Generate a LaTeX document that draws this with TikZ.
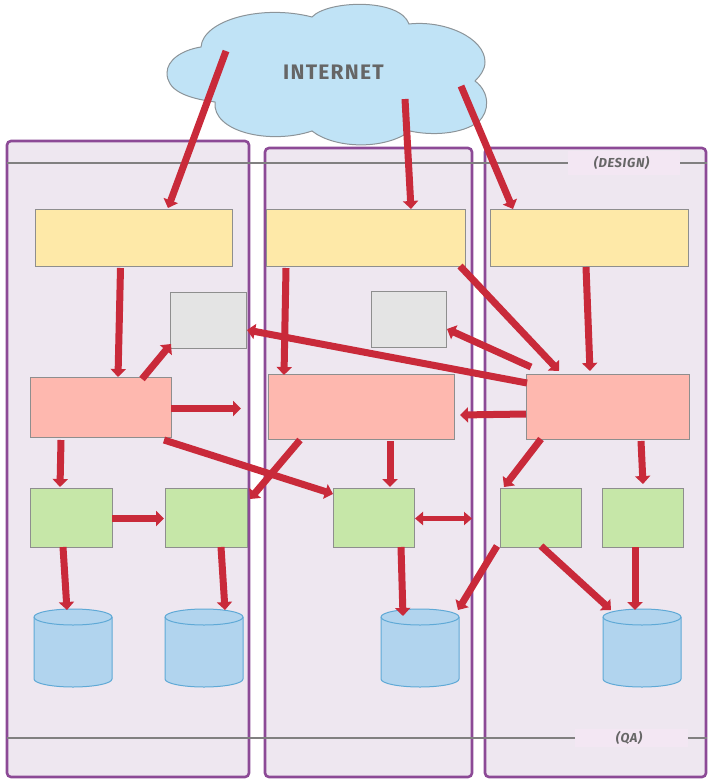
\documentclass[tikz,border=0pt]{standalone}
\usepackage{fontspec}
\setmainfont{Fira Sans}
\usetikzlibrary{arrows.meta,calc}
\definecolor{panelfill}{HTML}{EEE7F0}
\definecolor{panelline}{HTML}{8C4A96}
\definecolor{tierline}{HTML}{808080}
\definecolor{tierpatch}{HTML}{F3E7F3}
\definecolor{cloudfill}{HTML}{C0E3F6}
\definecolor{cloudline}{HTML}{8C9499}
\definecolor{inktext}{HTML}{666666}
\definecolor{flowred}{HTML}{C92A3A}
\definecolor{boxline}{HTML}{8E8E8E}
\definecolor{dbfill}{HTML}{B1D4EE}
\definecolor{dbline}{HTML}{5FA9D6}
\definecolor{webfill}{HTML}{FEE9A8}
\definecolor{cachefill}{HTML}{E4E4E4}
\definecolor{appfill}{HTML}{FEB8AF}
\definecolor{svcfill}{HTML}{C6E7A8}
\tikzset{
  panel/.style={draw=panelline,fill=panelfill,line width=2.6pt,rounded corners=4pt,outer sep=0pt,inner sep=0pt,anchor=north west},
  tier/.style={draw=tierline,line width=2.8pt},
  patch/.style={fill=tierpatch,draw=none,inner sep=0pt},
  tierlabel/.style={text=inktext,font=\bfseries\itshape\fontsize{13}{15}\selectfont\addfontfeatures{LetterSpace=5}},
  block/.style={draw=boxline,line width=1pt,inner sep=0pt,outer sep=0pt,anchor=north west},
  web/.style={block,fill=webfill},
  cache/.style={block,fill=cachefill},
  app/.style={block,fill=appfill},
  svc/.style={block,fill=svcfill},
  store/.style={inner sep=0pt,outer sep=0pt,minimum width=78pt,minimum height=78pt},
  dbbody/.style={draw=dbline,line width=1pt,fill=dbfill},
  flow/.style={draw=flowred,line width=7pt,-{Triangle[length=8pt,width=15pt]}},
  flowboth/.style={draw=flowred,line width=5.5pt,{Triangle[length=8pt,width=13pt]}-{Triangle[length=8pt,width=13pt]}}
}
\begin{document}
\begin{tikzpicture}[x=1pt,y=-1pt]
\useasboundingbox (0,0) rectangle (714,784);

% environment panels
\node[panel,minimum width=242pt,minimum height=636pt] (envA) at (7,141) {};
\node[panel,minimum width=207pt,minimum height=629pt] (envB) at (265,148) {};
\node[panel,minimum width=221pt,minimum height=629pt] (envC) at (485,148) {};

% tier separators with their captions
\coordinate (designL) at (7,163);
\coordinate (designR) at (707,163);
\coordinate (qaL) at (7,738);
\coordinate (qaR) at (707,738);
\draw[tier] (designL) -- (designR);
\draw[tier] (qaL) -- (qaR);
\node[patch,minimum width=112pt,minimum height=24pt] (designPatch) at (624,163) {};
\node[patch,minimum width=113pt,minimum height=18pt] (qaPatch) at (631.5,738) {};
\node[tierlabel] (designText) at (621.5,163) {(DESIGN)};
\node[tierlabel] (qaText) at (629,738) {(QA)};

% internet cloud
\draw[draw=cloudline,fill=cloudfill,line width=1pt]
  (201,47) .. controls (203,20) and (262,4) .. (312,17)
  .. controls (328,0) and (400,-2) .. (409,24)
  .. controls (445,20) and (485,38) .. (485,62)
  .. controls (485,70) and (480,76) .. (475,81)
  .. controls (490,92) and (490,112) .. (478,122)
  .. controls (462,134) and (432,136) .. (410,131)
  .. controls (385,150) and (335,149) .. (312,131)
  .. controls (270,145) and (212,132) .. (215,102)
  .. controls (185,98) and (167,90) .. (167,73)
  .. controls (167,60) and (182,50) .. (201,47) -- cycle;
\node[text=inktext,font=\bfseries\fontsize{21}{24}\selectfont\addfontfeatures{LetterSpace=6}] (internet) at (333.5,72) {INTERNET};
\coordinate (netA) at (226,51);
\coordinate (netB) at (405,99);
\coordinate (netC) at (461,86);

% front-end blocks
\node[web,minimum width=197pt,minimum height=57pt] (webA) at (35,209) {};
\node[web,minimum width=199pt,minimum height=57pt] (webB) at (266,209) {};
\node[web,minimum width=198pt,minimum height=57pt] (webC) at (490,209) {};

% grey blocks
\node[cache,minimum width=76pt,minimum height=56pt] (cacheA) at (170,292) {};
\node[cache,minimum width=75pt,minimum height=56pt] (cacheB) at (371,291) {};

% application blocks
\node[app,minimum width=141pt,minimum height=60pt] (appA) at (30,377) {};
\node[app,minimum width=186pt,minimum height=65pt] (appB) at (268,374) {};
\node[app,minimum width=163pt,minimum height=65pt] (appC) at (526,374) {};

% service blocks
\node[svc,minimum width=82pt,minimum height=59pt] (svcA) at (30,488) {};
\node[svc,minimum width=82pt,minimum height=59pt] (svcB) at (165,488) {};
\node[svc,minimum width=81pt,minimum height=59pt] (svcC) at (333,488) {};
\node[svc,minimum width=81pt,minimum height=59pt] (svcD) at (500,488) {};
\node[svc,minimum width=81pt,minimum height=59pt] (svcE) at (602,488) {};

% databases: a cylinder drawn round each named node
\node[store] (dbA) at (73,648) {};
\node[store] (dbB) at (204,648) {};
\node[store] (dbC) at (420,648) {};
\node[store] (dbD) at (642,648) {};
\foreach \db in {dbA,dbB,dbC,dbD}{
  \begin{scope}[shift={(\db.center)}]
    \draw[dbbody] (-39,-31) .. controls (-39,-35.5) and (-21,-39) .. (0,-39)
      .. controls (21,-39) and (39,-35.5) .. (39,-31) -- (39,31)
      .. controls (39,35.5) and (21,39) .. (0,39)
      .. controls (-21,39) and (-39,35.5) .. (-39,31) -- cycle;
    \draw[dbbody,fill=none] (-39,-31) .. controls (-39,-26.5) and (-21,-23) .. (0,-23)
      .. controls (21,-23) and (39,-26.5) .. (39,-31);
  \end{scope}
}

% loose connector ends
\coordinate (appAout) at (241,408.5);
\coordinate (svcCout) at (472,518.5);

% connectors from the internet
\draw[flow] (netA) -- ($(webA.north west)+(133,-1)$);
\draw[flow] (netB) -- ($(webB.north west)+(145,0)$);
\draw[flow] (netC) -- ($(webC.north west)+(23,0)$);

% connectors in the first column
\draw[flow] ($(webA.south west)+(85.5,2)$) -- ($(appA.north west)+(88,0)$);
\draw[flow] ($(appA.north west)+(112,2)$) -- ($(cacheA.south west)+(1,-4)$);
\draw[flow] (appA.east) ++(0,1.5) -- (appAout);
\draw[flow] ($(appA.south west)+(31,3)$) -- ($(svcA.north west)+(30,-1)$);
\draw[flow] ($(appA.south west)+(134,3)$) -- ($(svcC.north west)+(0,6)$);
\draw[flow] (svcA.east) ++(0,1) -- ($(svcB.west)+(-1,1)$);
\draw[flow] ($(svcA.south west)+(33,0)$) -- ($(dbA.north west)+(33,1)$);
\draw[flow] ($(svcB.south west)+(56,0)$) -- ($(dbB.north west)+(60,1)$);

% connectors in the second column
\draw[flow] ($(webB.south west)+(20,2)$) -- ($(appB.north west)+(16,1)$);
\draw[flow] ($(webB.south east)+(-5,0)$) -- ($(appC.north west)+(33,-3)$);
\draw[flow] ($(appB.south west)+(32,1)$) -- ($(svcB.north east)+(3,11)$);
\draw[flow] ($(appB.south west)+(122,2)$) -- ($(svcC.north west)+(57,-1)$);
\draw[flowboth] (svcC.east) ++(1,1) -- (svcCout);
\draw[flow] ($(svcC.south west)+(68,0)$) -- ($(dbC.north west)+(22,7)$);

% connectors in the third column
\draw[flow] ($(webC.south west)+(96,1)$) -- ($(appC.north west)+(64,-3)$);
\draw[flow] ($(appC.north west)+(1,9)$) -- ($(cacheA.east)+(1,10)$);
\draw[flow] ($(appC.north west)+(5,-7)$) -- ($(cacheB.east)+(1,10)$);
\draw[flow] ($(appC.west)+(0,7.5)$) -- ($(appB.east)+(6,8.5)$);
\draw[flow] ($(appC.south west)+(15,0)$) -- ($(svcD.north west)+(4,-1)$);
\draw[flow] ($(appC.south west)+(115,2)$) -- ($(svcE.north west)+(41,-4)$);
\draw[flow] ($(svcD.south west)+(-3,-1)$) -- ($(dbC.north east)+(-1,1)$);
\draw[flow] ($(svcD.south west)+(41,-1)$) -- ($(dbD.north west)+(8,1)$);
\draw[flow] ($(svcE.south west)+(33,0)$) -- ($(dbD.north west)+(32,1)$);
\end{tikzpicture}
\end{document}
